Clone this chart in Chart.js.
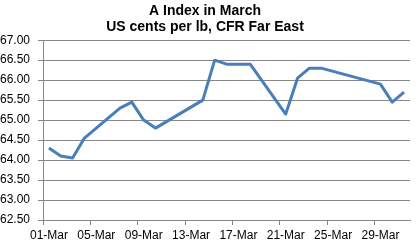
<!DOCTYPE html>
<html>
<head>
<meta charset="utf-8">
<script src="https://cdn.jsdelivr.net/npm/chart.js@4.4.1/dist/chart.umd.min.js"></script>
<style>
  html, body { margin: 0; padding: 0; background: #fff; }
  #wrap { width: 418px; height: 244px; }
</style>
</head>
<body>
<div id="wrap"><canvas id="aIndexChart"></canvas></div>
<script>
// trading days in March and the A Index quote for each (US cents per lb)
const days = [1, 2, 3, 4, 7, 8, 9, 10, 14, 15, 16, 18, 21, 22, 23, 24, 29, 30, 31];
const prices = [64.30, 64.10, 64.05, 64.55, 65.30, 65.45, 65.00, 64.80, 65.50, 66.50,
                66.40, 66.40, 65.15, 66.05, 66.30, 66.30, 65.90, 65.45, 65.70];

// x axis labels, one every four days
const tickDays = [1, 5, 9, 13, 17, 21, 25, 29];
const tickLabels = ['01-Mar', '05-Mar', '09-Mar', '13-Mar', '17-Mar', '21-Mar', '25-Mar', '29-Mar'];

const gridColor = '#878787';
const fontFamily = 'Liberation Sans, Arial, sans-serif';

const ctx = document.getElementById('aIndexChart').getContext('2d');
const chart = new Chart(ctx, {
    type: 'line',
    data: {
        datasets: [{
            label: 'A Index',
            data: days.map((d, i) => ({ x: d, y: prices[i] })),
            borderColor: '#4a7ebb',
            borderWidth: 3,
            borderJoinStyle: 'round',
            pointRadius: 0,
            tension: 0,
            fill: false
        }]
    },
    options: {
        responsive: true,
        maintainAspectRatio: false,
        animation: false,
        layout: { padding: { left: 0, right: 8, top: 0, bottom: 0 } },
        plugins: {
            legend: { display: false },
            tooltip: { enabled: false },
            title: {
                display: true,
                text: ['A Index in March', 'US cents per lb, CFR Far East'],
                color: '#000',
                font: { family: fontFamily, size: 14, weight: 'bold', lineHeight: 1.15 },
                padding: { top: 3, bottom: 5 }
            }
        },
        scales: {
            x: {
                type: 'linear',
                min: 0.5,
                max: 31.5,
                afterBuildTicks: (scale) => {
                    // tick marks sit on the day boundaries, labels centred on the day
                    scale.ticks = tickDays.map(d => ({ value: d - 0.5 }));
                },
                afterFit: (scale) => {
                    // labels never reach the edges, so no extra side padding
                    scale.paddingLeft = 0;
                    scale.paddingRight = 0;
                    scale.height = 24;
                },
                ticks: {
                    autoSkip: false,
                    maxRotation: 0,
                    padding: 3,
                    labelOffset: 6,
                    color: '#000',
                    font: { family: fontFamily, size: 12 },
                    callback: (value, index) => tickLabels[index]
                },
                grid: { drawOnChartArea: false, drawTicks: true, tickLength: 5, color: gridColor },
                border: { display: true, color: gridColor }
            },
            y: {
                min: 62.5,
                max: 67,
                afterFit: (scale) => { scale.width = 43; },
                ticks: {
                    stepSize: 0.5,
                    padding: 8,
                    color: '#000',
                    font: { family: fontFamily, size: 12 },
                    callback: (value) => value.toFixed(2)
                },
                grid: { color: gridColor, tickLength: 5 },
                border: { display: true, color: gridColor }
            }
        }
    }
});
</script>
</body>
</html>
